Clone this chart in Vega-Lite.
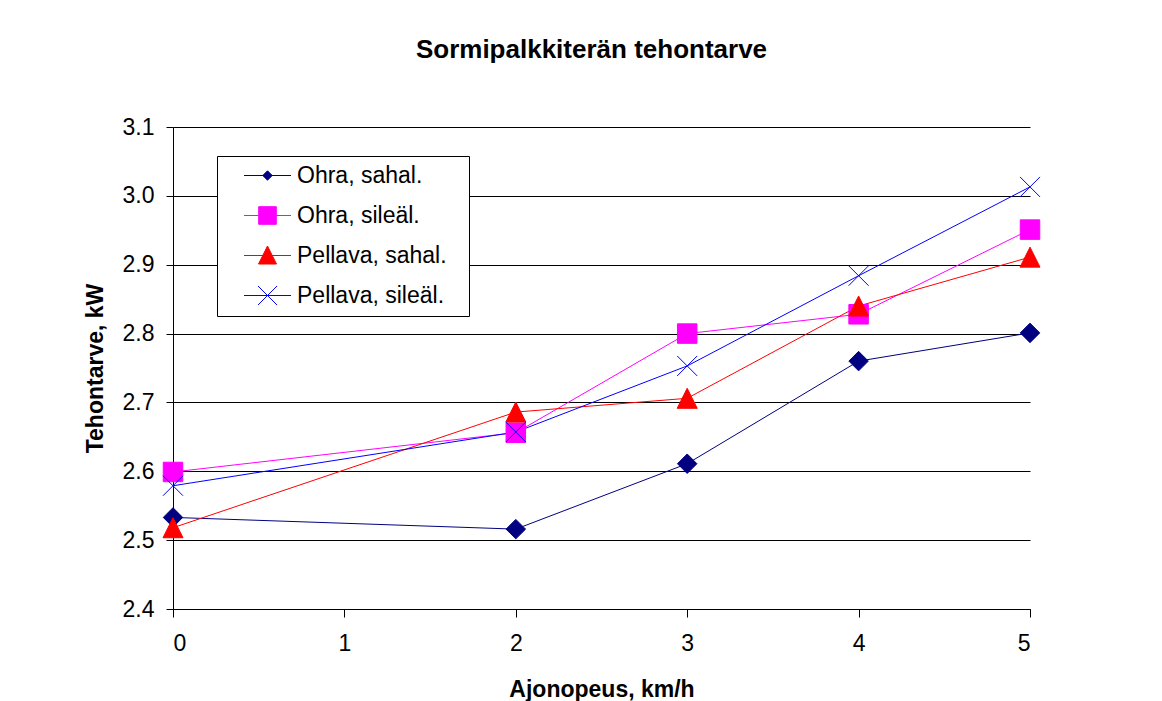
{
  "$schema": "https://vega.github.io/schema/vega-lite/v6.json",
  "width": 857,
  "height": 482,
  "autosize": {"type": "none"},
  "padding": {"left": 173, "top": 127, "right": 132, "bottom": 92},
  "background": "white",
  "title": {
    "text": "Sormipalkkiterän tehontarve",
    "font": "Liberation Sans",
    "fontSize": 26,
    "fontWeight": "bold",
    "color": "black",
    "anchor": "middle",
    "baseline": "alphabetic",
    "offset": 32,
    "dx": -10
  },
  "config": {
    "view": {"stroke": null},
    "font": "Liberation Sans",
    "axis": {
      "labelFont": "Liberation Sans",
      "titleFont": "Liberation Sans",
      "labelFontSize": 23,
      "titleFontSize": 23,
      "titleFontWeight": "bold",
      "labelColor": "black",
      "titleColor": "black",
      "domainColor": "black",
      "tickColor": "black",
      "domainWidth": 1,
      "tickWidth": 1
    }
  },
  "data": {
    "values": [
      {"speed": 0, "power": 2.533, "series": "Ohra, sahal."},
      {"speed": 2, "power": 2.516, "series": "Ohra, sahal."},
      {"speed": 3, "power": 2.611, "series": "Ohra, sahal."},
      {"speed": 4, "power": 2.760, "series": "Ohra, sahal."},
      {"speed": 5, "power": 2.801, "series": "Ohra, sahal."},
      {"speed": 0, "power": 2.599, "series": "Ohra, sileäl."},
      {"speed": 2, "power": 2.656, "series": "Ohra, sileäl."},
      {"speed": 3, "power": 2.800, "series": "Ohra, sileäl."},
      {"speed": 4, "power": 2.828, "series": "Ohra, sileäl."},
      {"speed": 5, "power": 2.951, "series": "Ohra, sileäl."},
      {"speed": 0, "power": 2.518, "series": "Pellava, sahal."},
      {"speed": 2, "power": 2.686, "series": "Pellava, sahal."},
      {"speed": 3, "power": 2.706, "series": "Pellava, sahal."},
      {"speed": 4, "power": 2.840, "series": "Pellava, sahal."},
      {"speed": 5, "power": 2.911, "series": "Pellava, sahal."},
      {"speed": 0, "power": 2.579, "series": "Pellava, sileäl."},
      {"speed": 2, "power": 2.657, "series": "Pellava, sileäl."},
      {"speed": 3, "power": 2.753, "series": "Pellava, sileäl."},
      {"speed": 4, "power": 2.884, "series": "Pellava, sileäl."},
      {"speed": 5, "power": 3.013, "series": "Pellava, sileäl."}
    ]
  },
  "encoding": {
    "x": {
      "field": "speed",
      "type": "quantitative",
      "scale": {"domain": [0, 5], "nice": false, "zero": false},
      "axis": {
        "title": "Ajonopeus, km/h",
        "values": [0, 1, 2, 3, 4, 5],
        "format": "d",
        "grid": false,
        "tickSize": 8,
        "labelPadding": 15,
        "titlePadding": 23
      }
    },
    "y": {
      "field": "power",
      "type": "quantitative",
      "scale": {"domain": [2.4, 3.1], "nice": false, "zero": false},
      "axis": {
        "title": "Tehontarve, kW",
        "values": [2.4, 2.5, 2.6, 2.7, 2.8, 2.9, 3.0, 3.1],
        "format": ".1f",
        "grid": true,
        "gridColor": "black",
        "gridWidth": 1,
        "gridOpacity": 1,
        "tickSize": 7,
        "labelPadding": 12,
        "titlePadding": 15
      }
    }
  },
  "layer": [
    {
      "mark": {"type": "line", "strokeWidth": 1},
      "encoding": {
        "color": {
          "field": "series",
          "type": "nominal",
          "scale": {
            "domain": ["Ohra, sahal.", "Ohra, sileäl.", "Pellava, sahal.", "Pellava, sileäl."],
            "range": ["#000080", "#FF00FF", "#FF0000", "#0000FF"]
          },
          "legend": {
            "title": "\u00a0",
            "titleOrient": "right",
            "titlePadding": 14,
            "titleFontSize": 23,
            "titleFont": "Liberation Sans",
            "orient": "none",
            "legendX": 44,
            "legendY": 29,
            "direction": "vertical",
            "strokeColor": "black",
            "fillColor": "white",
            "padding": 8,
            "rowPadding": 16,
            "symbolSize": 400,
            "symbolStrokeWidth": 1,
            "symbolOffset": 31,
            "labelOffset": 18,
            "labelFont": "Liberation Sans",
            "labelFontSize": 23,
            "labelColor": "black",
            "labelLimit": 400,
            "encode": {
              "symbols": {
                "update": {
                  "shape": {"signal": "datum.value === 'Ohra, sahal.' ? 'M-2.35,0H2.35M0,-0.47L0.47,0L0,0.47L-0.47,0Z' : datum.value === 'Ohra, sileäl.' ? 'M-2.35,0H2.35M-0.88,-0.88H0.88V0.88H-0.88Z' : datum.value === 'Pellava, sahal.' ? 'M-2.35,0H2.35M0,-0.95L0.9,0.85L-0.9,0.85Z' : 'M-2.35,0H2.35M-0.95,-0.95L0.95,0.95M-0.95,0.95L0.95,-0.95'"},
                  "fill": {"signal": "datum.value === 'Ohra, sahal.' ? '#000080' : datum.value === 'Ohra, sileäl.' ? '#FF00FF' : datum.value === 'Pellava, sahal.' ? '#FF0000' : 'transparent'"},
                  "stroke": {"signal": "datum.value === 'Ohra, sahal.' ? '#000080' : datum.value === 'Ohra, sileäl.' ? '#FF00FF' : datum.value === 'Pellava, sahal.' ? '#FF0000' : '#0000FF'"},
                  "strokeWidth": {"value": 1},
                  "strokeOpacity": {"value": 1},
                  "opacity": {"value": 1}
                }
              }
            }
          }
        }
      }
    },
    {
      "transform": [{"filter": "datum.series === 'Ohra, sahal.'"}],
      "mark": {"type": "point", "shape": "diamond", "size": 380, "filled": true, "fill": "#000080", "stroke": "#000080", "strokeWidth": 1, "opacity": 1}
    },
    {
      "transform": [{"filter": "datum.series === 'Ohra, sileäl.'"}],
      "mark": {"type": "point", "shape": "square", "size": 380, "filled": true, "fill": "#FF00FF", "stroke": "#FF00FF", "strokeWidth": 1, "opacity": 1}
    },
    {
      "transform": [{"filter": "datum.series === 'Pellava, sahal.'"}],
      "mark": {"type": "point", "shape": "M0,-1L1,1L-1,1Z", "size": 400, "filled": true, "fill": "#FF0000", "stroke": "#FF0000", "strokeWidth": 1, "opacity": 1}
    },
    {
      "transform": [{"filter": "datum.series === 'Pellava, sileäl.'"}],
      "mark": {"type": "point", "shape": "M-1,-1L1,1M-1,1L1,-1", "size": 400, "filled": false, "stroke": "#0000FF", "strokeWidth": 1, "opacity": 1}
    }
  ]
}
